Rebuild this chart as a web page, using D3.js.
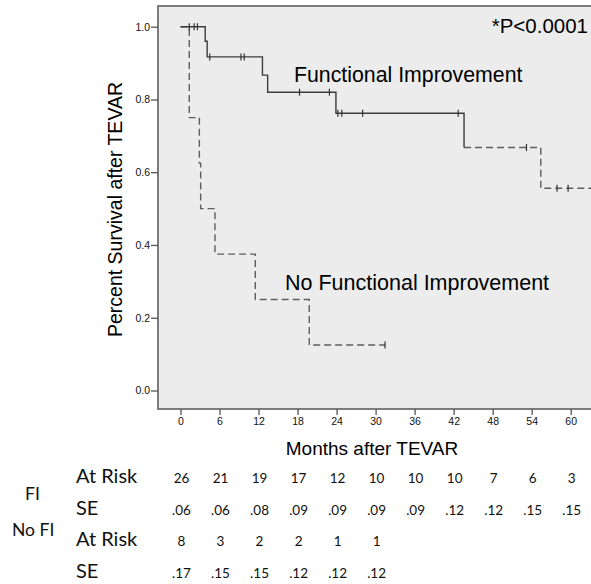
<!DOCTYPE html>
<html>
<head>
<meta charset="utf-8">
<script src="https://cdn.jsdelivr.net/npm/d3@7"></script>
<style>
  body { margin: 0; background: #fff; }
  svg { display: block; }
  .axis text { font-family: "Liberation Sans", Arial, sans-serif; font-size: 10.5px; fill: #111; }
  .axis line { stroke: #555; stroke-width: 1.3; }
  .label { font-family: "Liberation Sans", Arial, sans-serif; fill: #000; }
  .tbl { font-family: Lato, "Open Sans", sans-serif; fill: #111; }
</style>
</head>
<body>
<script>
// axis ticks
var monthTicks = [0, 6, 12, 18, 24, 30, 36, 42, 48, 54, 60];
var survTicks = [0, 0.2, 0.4, 0.6, 0.8, 1.0];

// Functional Improvement: step times (months) and survival after each step
var fiTimes = [0, 3.8, 4.1, 12.6, 13.4, 23.9, 43.6, 55.4];
var fiSurv  = [1, 0.96, 0.917, 0.867, 0.82, 0.762, 0.668, 0.556];
var fiLast = 64;
var fiCensor = [1.35, 2.1, 2.6, 4.5, 9.3, 9.8, 18.3, 22.9, 24.2, 24.8, 28, 42.7, 53.2, 57.9, 59.6];

// No Functional Improvement
var nfiTimes = [0, 1.35, 2.9, 3.1, 5.3, 11.5, 19.8];
var nfiSurv  = [1, 0.75, 0.625, 0.5, 0.375, 0.25, 0.125];
var nfiLast = 31.45;
var nfiCensor = [31.45];

// numbers at risk table
var fiAtRisk = [26, 21, 19, 17, 12, 10, 10, 10, 7, 6, 3];
var fiSE = [0.06, 0.06, 0.08, 0.09, 0.09, 0.09, 0.09, 0.12, 0.12, 0.15, 0.15];
var nfiAtRisk = [8, 3, 2, 2, 1, 1];
var nfiSE = [0.17, 0.15, 0.15, 0.12, 0.12, 0.12];

var width = 591, height = 584;
var solidUntil = 43.6; // FI line turns dashed after this step

var svg = d3.select("body").append("svg")
  .attr("width", width)
  .attr("height", height);

var x = d3.scaleLinear().domain([0, 60]).range([180.5, 570.7]);
var y = d3.scaleLinear().domain([0, 1]).range([390.5, 26.7]);

// plot frame
svg.append("rect")
  .attr("x", 158).attr("y", 6)
  .attr("width", 450).attr("height", 403)
  .attr("fill", "#ececec")
  .attr("stroke", "#707070")
  .attr("stroke-width", 1.8);

function stepPoints(times, surv, last) {
  var pts = times.map(function(t, i) { return [t, surv[i]]; });
  pts.push([last, surv[surv.length - 1]]);
  return pts;
}
function survAt(times, surv, t) {
  var i = d3.bisectRight(times, t) - 1;
  return surv[i];
}

var line = d3.line()
  .x(function(d) { return x(d[0]); })
  .y(function(d) { return y(d[1]); })
  .curve(d3.curveStepAfter);

// No FI curve (dashed)
svg.append("path")
  .attr("d", line(stepPoints(nfiTimes, nfiSurv, nfiLast)))
  .attr("fill", "none")
  .attr("stroke", "#5e5e5e")
  .attr("stroke-width", 1.4)
  .attr("stroke-dasharray", "7,4");

// FI curve: solid part then dashed tail
var fiPts = stepPoints(fiTimes, fiSurv, fiLast);
var solidPts = fiPts.filter(function(d) { return d[0] <= solidUntil; });
var dashPts = fiPts.filter(function(d) { return d[0] >= solidUntil; });

svg.append("path")
  .attr("d", line(dashPts))
  .attr("fill", "none")
  .attr("stroke", "#5e5e5e")
  .attr("stroke-width", 1.4)
  .attr("stroke-dasharray", "7,4");

svg.append("path")
  .attr("d", line(solidPts))
  .attr("fill", "none")
  .attr("stroke", "#3c3c3c")
  .attr("stroke-width", 1.4);

// censor marks
var marks = fiCensor.map(function(t) { return [t, survAt(fiTimes, fiSurv, t)]; })
  .concat(nfiCensor.map(function(t) { return [t, survAt(nfiTimes, nfiSurv, t)]; }));

svg.selectAll(".censor")
  .data(marks)
  .enter()
  .append("line")
    .attr("class", "censor")
    .attr("x1", function(d) { return x(d[0]); })
    .attr("x2", function(d) { return x(d[0]); })
    .attr("y1", function(d) { return y(d[1]) - 3.5; })
    .attr("y2", function(d) { return y(d[1]) + 3.5; })
    .attr("stroke", "#333")
    .attr("stroke-width", 1.2);

// axes
var yAxis = svg.append("g")
  .attr("class", "axis")
  .attr("transform", "translate(158,0)")
  .call(d3.axisLeft(y).tickValues(survTicks).tickFormat(d3.format(".1f")).tickSize(7).tickPadding(1));
yAxis.select(".domain").remove();

var xAxis = svg.append("g")
  .attr("class", "axis")
  .attr("transform", "translate(0,409)")
  .call(d3.axisBottom(x).tickValues(monthTicks).tickSize(6).tickPadding(3));
xAxis.select(".domain").remove();

// titles and annotations
svg.append("text")
  .attr("class", "label")
  .attr("transform", "translate(122,209.5) rotate(-90)")
  .attr("text-anchor", "middle")
  .style("font-size", "19.5px")
  .text("Percent Survival after TEVAR");

svg.append("text")
  .attr("class", "label")
  .attr("x", 372).attr("y", 455)
  .attr("text-anchor", "middle")
  .style("font-size", "19px")
  .text("Months after TEVAR");

svg.append("text")
  .attr("class", "label")
  .attr("x", 588).attr("y", 33)
  .attr("text-anchor", "end")
  .style("font-size", "20.5px")
  .text("*P<0.0001");

svg.append("text")
  .attr("class", "label")
  .attr("x", 294).attr("y", 81.7)
  .style("font-size", "21.3px")
  .text("Functional Improvement");

svg.append("text")
  .attr("class", "label")
  .attr("x", 285).attr("y", 289.5)
  .style("font-size", "21.5px")
  .text("No Functional Improvement");

// at risk table
var seFmt = function(v) { return d3.format(".2f")(v).replace(/^0/, ""); };
var rows = [
  { name: "At Risk", vals: fiAtRisk.map(String), base: 483 },
  { name: "SE", vals: fiSE.map(seFmt), base: 515 },
  { name: "At Risk", vals: nfiAtRisk.map(String), base: 546 },
  { name: "SE", vals: nfiSE.map(seFmt), base: 577.5 }
];

svg.append("text").attr("class", "tbl")
  .attr("x", 25).attr("y", 499.5)
  .style("font-size", "17.5px")
  .text("FI");
svg.append("text").attr("class", "tbl")
  .attr("x", 12).attr("y", 535.5)
  .style("font-size", "17.5px")
  .text("No FI");

rows.forEach(function(r) {
  svg.append("text").attr("class", "tbl")
    .attr("x", 76).attr("y", r.base)
    .style("font-size", "20px")
    .text(r.name);
  svg.selectAll(null)
    .data(r.vals)
    .enter()
    .append("text")
      .attr("class", "tbl")
      .attr("x", function(d, i) { return x(monthTicks[i]) + 1; })
      .attr("y", r.base)
      .attr("text-anchor", "middle")
      .style("font-size", "13.5px")
      .text(function(d) { return d; });
});
</script>
</body>
</html>
